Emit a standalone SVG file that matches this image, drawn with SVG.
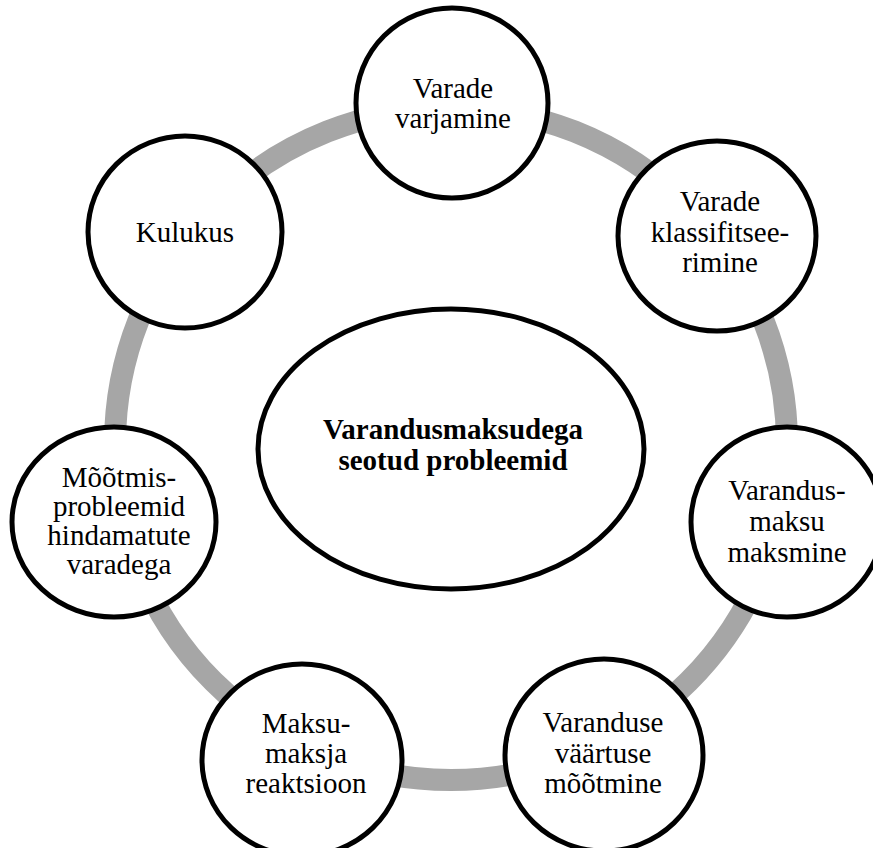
<svg xmlns="http://www.w3.org/2000/svg" width="873" height="848" viewBox="0 0 873 848">
<style>
.node{fill:#fff;stroke:#000;stroke-width:5}
.t{font-family:"Liberation Serif","Times New Roman",serif;font-size:29px;fill:#000;text-anchor:middle}
.b{font-weight:bold}
.ring{fill:none;stroke:#a6a6a6;stroke-width:22}
</style>
<rect width="873" height="848" fill="#fff"/>
<g id="connectors">
<circle class="ring" cx="451" cy="444" r="336"/>
</g>
<g id="center">
<ellipse class="node" cx="451" cy="449" rx="193" ry="140"/>
<text class="t b" x="453" y="439">Varandusmaksudega</text>
<text class="t b" x="453" y="470">seotud probleemid</text>
</g>
<g id="n1">
<ellipse class="node" cx="452" cy="103" rx="96" ry="95"/>
<text class="t" x="453" y="98">Varade</text>
<text class="t" x="453" y="128">varjamine</text>
</g>
<g id="n2">
<ellipse class="node" cx="717" cy="236" rx="99" ry="95"/>
<text class="t" x="720" y="211">Varade</text>
<text class="t" x="720" y="242">klassifitsee-</text>
<text class="t" x="720" y="272">rimine</text>
</g>
<g id="n3">
<ellipse class="node" cx="787" cy="522" rx="96" ry="95"/>
<text class="t" x="787" y="500">Varandus-</text>
<text class="t" x="787" y="531">maksu</text>
<text class="t" x="787" y="562">maksmine</text>
</g>
<g id="n4">
<ellipse class="node" cx="604" cy="755" rx="99" ry="96"/>
<text class="t" x="603" y="732">Varanduse</text>
<text class="t" x="603" y="763">väärtuse</text>
<text class="t" x="603" y="793">mõõtmine</text>
</g>
<g id="n5">
<ellipse class="node" cx="302" cy="760" rx="100" ry="96"/>
<text class="t" x="306" y="733">Maksu-</text>
<text class="t" x="306" y="763">maksja</text>
<text class="t" x="306" y="793">reaktsioon</text>
</g>
<g id="n6">
<ellipse class="node" cx="114" cy="522" rx="102" ry="95"/>
<text class="t" x="119" y="487">Mõõtmis-</text>
<text class="t" x="119" y="516">probleemid</text>
<text class="t" x="119" y="545">hindamatute</text>
<text class="t" x="119" y="574">varadega</text>
</g>
<g id="n7">
<ellipse class="node" cx="185" cy="232" rx="97" ry="96"/>
<text class="t" x="185" y="242">Kulukus</text>
</g>
</svg>
